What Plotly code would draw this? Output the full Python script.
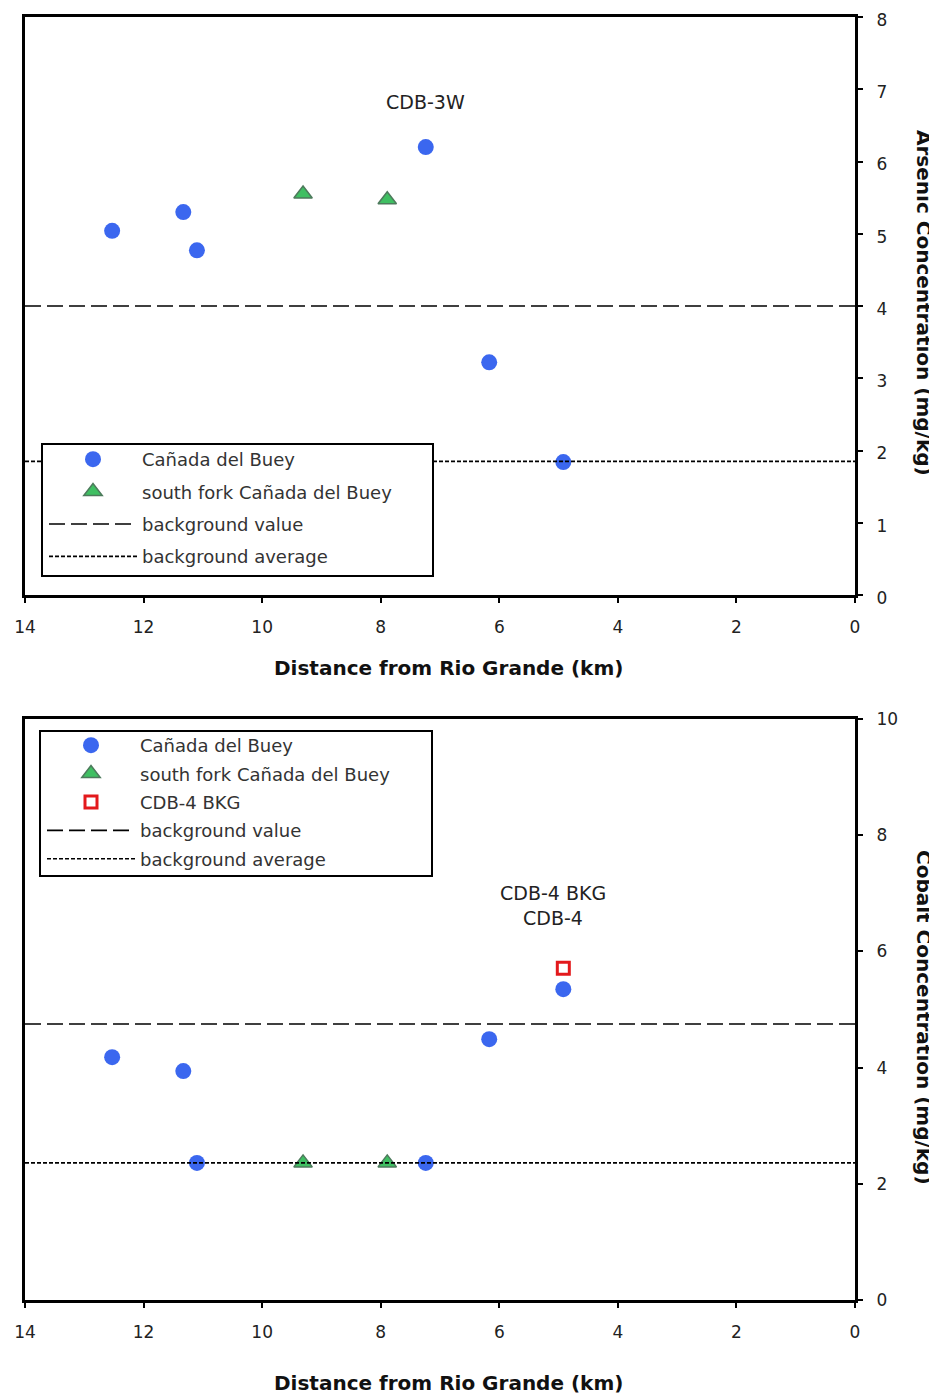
import plotly.graph_objects as go

# ---------------- data ----------------
# Arsenic panel
as_cdb_x = [12.53, 11.33, 11.10, 7.24, 6.17, 4.92]
as_cdb_y = [5.04, 5.30, 4.77, 6.20, 3.22, 1.84]
as_sf_x = [9.31, 7.89]
as_sf_y = [5.55, 5.47]
as_bg_value = 4.0
as_bg_avg = 1.85

# Cobalt panel
co_cdb_x = [12.53, 11.33, 11.10, 7.24, 6.17, 4.92]
co_cdb_y = [4.18, 3.94, 2.36, 2.36, 4.49, 5.35]
co_sf_x = [9.31, 7.89]
co_sf_y = [2.36, 2.36]
co_bkg_x = [4.92]
co_bkg_y = [5.71]
co_bg_value = 4.75
co_bg_avg = 2.36

x_range = [14, 0]
x_ticks = [14, 12, 10, 8, 6, 4, 2, 0]

FONT = "DejaVu Sans"
BLUE = "#3b67ef"
GREEN = "#3fbf62"
GREEN_EDGE = "#4d7a5c"
RED = "#e3191c"

fig = go.Figure()

def add_panel(xa, ya, legend, cdb_x, cdb_y, sf_x, sf_y, gi):
    fig.add_trace(go.Scatter(x=cdb_x, y=cdb_y, mode="markers", name="Cañada del Buey",
                             marker=dict(symbol="circle", size=16, color=BLUE,
                                         line=dict(width=0)),
                             xaxis=xa, yaxis=ya, legend=legend, legendgroup=f"a{gi}"))
    fig.add_trace(go.Scatter(x=sf_x, y=sf_y, mode="markers", name="south fork Cañada del Buey",
                             marker=dict(symbol="triangle-up", size=16, color=GREEN,
                                         line=dict(width=1.5, color=GREEN_EDGE)),
                             xaxis=xa, yaxis=ya, legend=legend, legendgroup=f"b{gi}"))

def add_lines(xa, ya, legend, bgv, bga, gi):
    fig.add_trace(go.Scatter(x=x_range, y=[bgv, bgv], mode="lines", name="background value",
                             line=dict(color="black", width=1.6, dash="16px,6px"),
                             xaxis=xa, yaxis=ya, legend=legend, legendgroup=f"d{gi}"))
    fig.add_trace(go.Scatter(x=x_range, y=[bga, bga], mode="lines", name="background average",
                             line=dict(color="black", width=1.6, dash="4px,2px"),
                             xaxis=xa, yaxis=ya, legend=legend, legendgroup=f"e{gi}"))

# top panel
add_panel("x", "y", "legend", as_cdb_x, as_cdb_y, as_sf_x, as_sf_y, 1)
add_lines("x", "y", "legend", as_bg_value, as_bg_avg, 1)

# bottom panel
add_panel("x2", "y2", "legend2", co_cdb_x, co_cdb_y, co_sf_x, co_sf_y, 2)
fig.add_trace(go.Scatter(x=co_bkg_x, y=co_bkg_y, mode="markers", name="CDB-4 BKG",
                         marker=dict(symbol="square-open", size=12, color=RED,
                                     line=dict(width=3, color=RED)),
                         xaxis="x2", yaxis="y2", legend="legend2", legendgroup="c2"))
add_lines("x2", "y2", "legend2", co_bg_value, co_bg_avg, 2)

# page body has an 8px default margin; figure sized to fit the window
OFF = 8
W, H = 937 - OFF, 1399 - OFF
def px(v):
    return (v - OFF) / W
def py(v):
    return 1 - (v - OFF) / H

xd = [px(25), px(855)]
top_d = [py(595), py(17)]
bot_d = [py(1300), py(719)]

axis_common = dict(showline=True, linecolor="black", linewidth=3, mirror=True,
                   ticks="outside", ticklen=5, tickwidth=2, tickcolor="black",
                   showgrid=False, zeroline=False, automargin=False,
                   ticklabeloverflow="allow",
                   tickfont=dict(family=FONT, size=17, color="#222"))

legend_common = dict(xanchor="left", yanchor="top", bgcolor="rgba(0,0,0,0)",
                     borderwidth=0,
                     font=dict(family=FONT, size=18, color="#333"),
                     traceorder="grouped", itemwidth=88)

fig.update_layout(
    width=W, height=H,
    margin=dict(l=0, r=0, t=0, b=0, pad=0, autoexpand=False),
    paper_bgcolor="white", plot_bgcolor="white",
    font=dict(family=FONT, size=17, color="#222"),
    xaxis=dict(domain=xd, anchor="y", range=x_range, tickvals=x_ticks,
               ticklabelstandoff=10, **axis_common),
    yaxis=dict(domain=top_d, anchor="x", side="right", range=[0, 8], dtick=1,
               ticklabelstandoff=10, ticklabelshift=3, **axis_common),
    xaxis2=dict(domain=xd, anchor="y2", range=x_range, tickvals=x_ticks,
                ticklabelstandoff=10, **axis_common),
    yaxis2=dict(domain=bot_d, anchor="x2", side="right", range=[0, 10], dtick=2,
                ticklabelstandoff=10, **axis_common),
    legend=dict(x=px(44), y=py(441), tracegroupgap=6, **legend_common),
    legend2=dict(x=px(42), y=py(727), tracegroupgap=2, **legend_common),
    showlegend=True,
)

# legend frames (white boxes that hide the reference lines behind the legends)
fig.update_layout(shapes=[
    dict(type="rect", xref="paper", yref="paper", x0=px(42), x1=px(433),
         y0=py(576), y1=py(444), fillcolor="white", line=dict(color="black", width=2),
         layer="above"),
    dict(type="rect", xref="paper", yref="paper", x0=px(40), x1=px(432),
         y0=py(876), y1=py(731), fillcolor="white", line=dict(color="black", width=2),
         layer="above"),
])

ann_font = dict(family=FONT, size=19, color="#222")
title_font = dict(family=FONT, size=20, color="#111")
C = dict(xanchor="center", yanchor="middle", showarrow=False)
annos = [
    dict(text="CDB-3W", x=7.24, y=6.83, xref="x", yref="y", font=ann_font, **C),
    dict(text="CDB-4 BKG", x=5.09, y=7.0, xref="x2", yref="y2", font=ann_font, **C),
    dict(text="CDB-4", x=5.09, y=6.57, xref="x2", yref="y2", font=ann_font, **C),
    dict(text="<b>Distance from Rio Grande (km)</b>", x=px(448), y=py(668),
         xref="paper", yref="paper", font=title_font, **C),
    dict(text="<b>Distance from Rio Grande (km)</b>", x=px(448), y=py(1383),
         xref="paper", yref="paper", font=title_font, **C),
    dict(text="<b>Arsenic Concentration (mg/kg)</b>", x=px(924), y=py(303),
         xref="paper", yref="paper", textangle=90, font=title_font, **C),
    dict(text="<b>Cobalt Concentration (mg/kg)</b>", x=px(924), y=py(1017),
         xref="paper", yref="paper", textangle=90, font=title_font, **C),
]
fig.update_layout(annotations=annos)

fig.write_html("out.html")
